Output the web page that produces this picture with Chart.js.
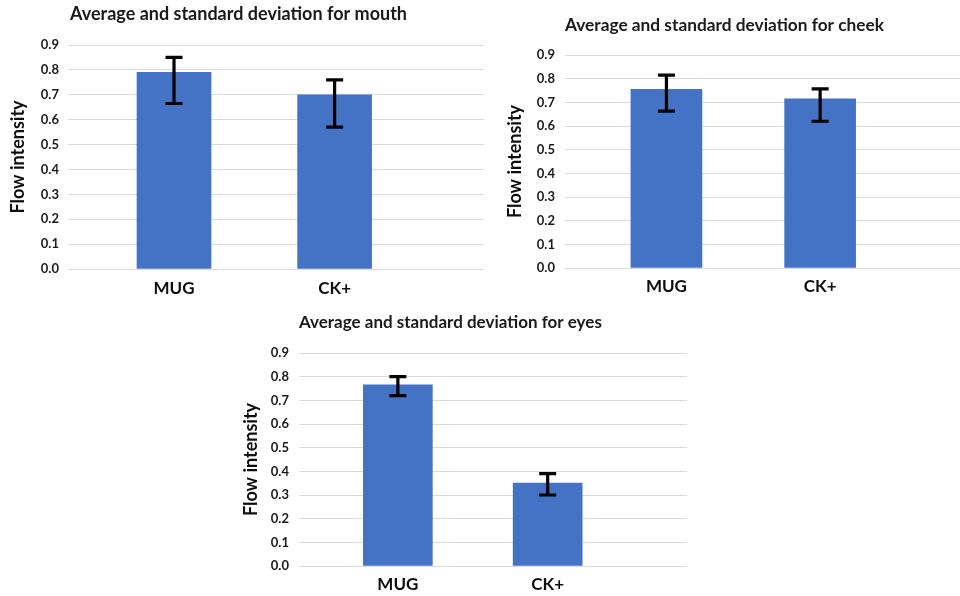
<!DOCTYPE html>
<html>
<head>
<meta charset="utf-8">
<script src="https://cdn.jsdelivr.net/npm/chart.js@4/dist/chart.umd.min.js"></script>
<style>
  html, body { margin: 0; padding: 0; background: #ffffff; overflow: hidden; }
  .panel { position: absolute; }
</style>
</head>
<body>
<div class="panel" style="left:0px;top:0px;width:490px;height:300px"><canvas id="mouth"></canvas></div>
<div class="panel" style="left:490px;top:0px;width:470px;height:300px"><canvas id="cheek"></canvas></div>
<div class="panel" style="left:230px;top:300px;width:480px;height:296px"><canvas id="eyes"></canvas></div>
<script>
// Datasets compared in every panel
const categories = ['MUG', 'CK+'];

// Mean flow intensity with the lower / upper ends of the deviation bars
const mouthMean = [0.79, 0.70];
const mouthLow  = [0.665, 0.57];
const mouthHigh = [0.85, 0.76];

const cheekMean = [0.755, 0.715];
const cheekLow  = [0.663, 0.62];
const cheekHigh = [0.815, 0.757];

const eyesMean = [0.765, 0.35];
const eyesLow  = [0.72, 0.30];
const eyesHigh = [0.80, 0.39];

const yTicks = [0, 0.1, 0.2, 0.3, 0.4, 0.5, 0.6, 0.7, 0.8, 0.9];

const FONT = 'Lato, "Open Sans", "DejaVu Sans", sans-serif';
const BAR = '#4472C4';
const GRID = '#d9d9d9';

// Draws the deviation whiskers and the panel heading
const panelExtras = {
  id: 'panelExtras',
  afterDatasetsDraw(chart, args, opts) {
    const ctx = chart.ctx;
    const xs = chart.scales.x, ys = chart.scales.y;
    ctx.save();
    ctx.strokeStyle = '#000000';
    ctx.lineWidth = opts.lineWidth;
    ctx.lineCap = 'butt';
    opts.low.forEach((lo, i) => {
      const x = xs.getPixelForValue(i);
      const yLo = ys.getPixelForValue(lo);
      const yHi = ys.getPixelForValue(opts.high[i]);
      const c = opts.capWidth / 2;
      ctx.beginPath();
      ctx.moveTo(x, yLo); ctx.lineTo(x, yHi);
      ctx.moveTo(x - c, yHi); ctx.lineTo(x + c, yHi);
      ctx.moveTo(x - c, yLo); ctx.lineTo(x + c, yLo);
      ctx.stroke();
    });
    // heading, left-aligned with the plot area
    ctx.fillStyle = '#1a1a1a';
    ctx.font = 'bold ' + opts.titleSize + 'px ' + FONT;
    ctx.textAlign = 'left';
    ctx.textBaseline = 'middle';
    ctx.fillText(opts.title, chart.chartArea.left + opts.titleDx, chart.chartArea.top - opts.titleGap);
    ctx.restore();
  }
};

function makeChart(id, mean, low, high, g) {
  const points = mean.map((v, i) => ({ x: i, y: v }));
  return new Chart(document.getElementById(id), {
    type: 'bar',
    data: {
      datasets: [{
        data: points,
        backgroundColor: BAR,
        borderWidth: 0,
        barThickness: g.barWidth
      }]
    },
    plugins: [panelExtras],
    options: {
      responsive: true,
      maintainAspectRatio: false,
      animation: false,
      layout: { padding: { left: 0, top: g.top, right: g.right, bottom: 0 } },
      plugins: {
        legend: { display: false },
        tooltip: { enabled: false },
        panelExtras: {
          low: low, high: high,
          lineWidth: 3.2, capWidth: 17,
          title: g.title, titleSize: g.titleSize, titleGap: g.titleGap, titleDx: g.titleDx
        }
      },
      scales: {
        x: {
          type: 'linear',
          offset: false,
          min: -0.66, max: g.xMax,
          grid: { display: false, drawTicks: false },
          border: { display: false },
          afterBuildTicks: s => { s.ticks = categories.map((c, i) => ({ value: i })); },
          afterFit: s => { s.height = g.bottom; },
          ticks: {
            padding: g.xPad,
            color: '#0d0d0d',
            font: { family: FONT, size: 17, weight: 'bold' },
            callback: v => categories[v]
          }
        },
        y: {
          min: 0, max: 0.9,
          afterBuildTicks: s => { s.ticks = yTicks.map(v => ({ value: v })); },
          afterFit: s => { s.width = g.left; },
          grid: { color: GRID, lineWidth: 1, drawTicks: false },
          border: { display: false },
          ticks: {
            padding: g.yPad,
            color: '#1a1a1a',
            font: { family: FONT, size: 13, weight: 'bold' },
            callback: v => Number(v).toFixed(1)
          },
          title: {
            display: true,
            text: 'Flow intensity',
            color: '#0d0d0d',
            font: { family: FONT, size: 18, weight: 'bold' },
            padding: { top: g.yTitlePad, bottom: 0 }
          }
        }
      }
    }
  });
}

makeChart('mouth', mouthMean, mouthLow, mouthHigh, {
  title: 'Average and standard deviation for mouth', titleSize: 18,
  top: 45, bottom: 31, left: 68, right: 6, xMax: 1.93,
  barWidth: 74, xPad: 9, yPad: 9, yTitlePad: 7, titleGap: 31, titleDx: 2
});

makeChart('cheek', cheekMean, cheekLow, cheekHigh, {
  title: 'Average and standard deviation for cheek', titleSize: 17.3,
  top: 55, bottom: 32, left: 75, right: 0, xMax: 1.91,
  barWidth: 71, xPad: 8, yPad: 10, yTitlePad: 14, titleGap: 30, titleDx: 0
});

makeChart('eyes', eyesMean, eyesLow, eyesHigh, {
  title: 'Average and standard deviation for eyes', titleSize: 17,
  top: 53, bottom: 30, left: 69, right: 23, xMax: 1.93,
  barWidth: 69, xPad: 8, yPad: 10, yTitlePad: 10, titleGap: 30, titleDx: 0
});
</script>
</body>
</html>
